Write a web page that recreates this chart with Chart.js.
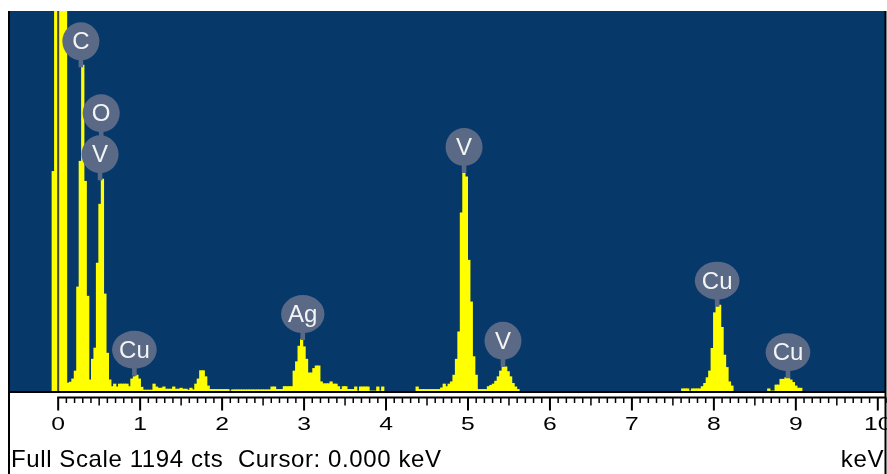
<!DOCTYPE html>
<html>
<head>
<meta charset="utf-8">
<title>EDS spectrum</title>
<script src="https://cdn.jsdelivr.net/npm/chart.js@4.4.1/dist/chart.umd.min.js"></script>
<style>
  html, body { margin: 0; padding: 0; background: #fff; }
  #wrap { width: 887px; height: 474px; position: relative; }
</style>
</head>
<body>
<div id="wrap"><canvas id="spectrum"></canvas></div>
<script>
const channelKeV = 0.03;
const fullScaleCounts = 1194;
const cursorKeV = 0;
const axisMinKeV = -0.6;
const axisMaxKeV = 10.1;
const tickLabels = ['0', '1', '2', '3', '4', '5', '6', '7', '8', '9', '10'];

// counts per channel, each run starts at the given energy
const lowStartKeV = -0.06; // noise peak, C, O / V L, Cu L, ~1.7 keV
const lowCounts = [
  690, 4000, 4000, 4000, 4000, 4000, 25, 28, 38, 63,
  327, 722, 1024, 659, 298, 35, 100, 135, 402, 587,
  666, 305, 119, 35, 14, 22, 13, 22, 22, 22,
  22, 14, 38, 45, 50, 38, 12, 3, 3, 3,
  3, 22, 13, 9, 9, 13, 6, 6, 6, 13,
  6, 6, 9, 6, 6, 3, 9, 4, 22, 38,
  64, 64, 45, 16
];
const midStartKeV = 1.86; // background and Ag L
const midCounts = [
  5, 5, 5, 5, 5, 5, 5, 5, 0, 4,
  4, 4, 4, 4, 4, 4, 4, 4, 4, 4,
  4, 4, 4, 4, 4, 13, 13, 5, 5, 5,
  14, 14, 14, 14, 63, 92, 141, 163, 139, 100,
  57, 57, 71, 79, 79, 29, 23, 23, 23, 29,
  22, 22, 14, 5, 14, 14, 5, 5, 5, 13,
  0, 13, 13, 13, 13, 0, 0, 0, 13, 0,
  13
];
const vanadiumStartKeV = 4.38; // V Ka and Kb
const vanadiumCounts = [
  13, 5, 5, 5, 5, 5, 5, 5, 5, 5,
  10, 22, 14, 22, 29, 50, 100, 186, 560, 685,
  673, 411, 280, 108, 50, 5, 5, 5, 5, 14,
  18, 22, 31, 45, 63, 76, 76, 61, 45, 24,
  13, 5
];
const copperKaStartKeV = 7.62;
const copperKaCounts = [
  7, 7, 7, 0, 7, 7, 7, 7, 14, 24,
  42, 63, 134, 246, 265, 270, 200, 113, 74, 29,
  16
];
const copperKbStartKeV = 8.67;
const copperKbCounts = [7, 0, 0, 19, 19, 37, 37, 42, 45, 35, 27, 16, 9, 9];

const peakNames = ['C', 'O', 'V', 'Cu', 'Ag', 'V', 'V', 'Cu', 'Cu'];
const peakKeV = [0.277, 0.525, 0.511, 0.930, 2.984, 4.952, 5.427, 8.040, 8.904];
const peakMarkerCounts = [1017, 791, 662, 48, 160, 685, 76, 265, 40];

function channelRun(startKeV, counts) {
  return counts.map((c, i) => ({ x: +(startKeV + i * channelKeV).toFixed(3), y: c }));
}

const spectrumData = [].concat(
  channelRun(lowStartKeV, lowCounts),
  channelRun(midStartKeV, midCounts),
  channelRun(vanadiumStartKeV, vanadiumCounts),
  channelRun(copperKaStartKeV, copperKaCounts),
  channelRun(copperKbStartKeV, copperKbCounts)
);

const fontFamily = "'Liberation Sans', Arial, sans-serif";

const edsDecor = {
  id: 'edsDecor',
  beforeDatasetsDraw(chart) {
    const { ctx, chartArea: a } = chart;
    ctx.save();
    ctx.fillStyle = '#06386a';
    ctx.fillRect(a.left, a.top, a.right - a.left, a.bottom - a.top);
    ctx.restore();
  },
  afterDatasetsDraw(chart) {
    const { ctx, chartArea: a } = chart;
    const xs = chart.scales.x;
    const ys = chart.scales.y;
    ctx.save();

    // cursor line
    const cx = xs.getPixelForValue(cursorKeV);
    ctx.strokeStyle = '#46463a';
    ctx.lineWidth = 2;
    ctx.beginPath();
    ctx.moveTo(cx, a.top);
    ctx.lineTo(cx, a.bottom);
    ctx.stroke();

    // peak markers
    ctx.font = '24px ' + fontFamily;
    ctx.textAlign = 'center';
    ctx.textBaseline = 'middle';
    peakNames.forEach((name, i) => {
      const px = xs.getPixelForValue(peakKeV[i]);
      const pinBottom = ys.getPixelForValue(peakMarkerCounts[i]);
      const pinTop = pinBottom - 8;
      const ry = 19;
      const rx = Math.max(18.5, ctx.measureText(name).width / 2 + 7);
      const cy = pinTop - ry + 1;
      ctx.fillStyle = '#596986';
      ctx.fillRect(px - 2.3, pinTop - 2, 4.6, pinBottom - pinTop + 2);
      ctx.beginPath();
      ctx.ellipse(px, cy, rx, ry, 0, 0, Math.PI * 2);
      ctx.fill();
      ctx.fillStyle = '#f4f4f4';
      ctx.fillText(name, px, cy + 1.5);
    });
    ctx.restore();
  },
  afterDraw(chart) {
    const { ctx, chartArea: a, width, height } = chart;
    const xs = chart.scales.x;
    ctx.save();
    ctx.strokeStyle = '#000';
    ctx.fillStyle = '#000';

    // frame
    ctx.lineWidth = 2;
    ctx.beginPath();
    ctx.moveTo(a.left, a.top);
    ctx.lineTo(a.left, height);
    ctx.moveTo(a.right - 0.5, a.top);
    ctx.lineTo(a.right - 0.5, height);
    ctx.moveTo(a.left, a.bottom + 1);
    ctx.lineTo(a.right, a.bottom + 1);
    ctx.stroke();

    // ruler
    const rulerY = a.bottom + 6.5;
    const x0 = xs.getPixelForValue(0);
    ctx.beginPath();
    ctx.moveTo(x0 - 1, rulerY);
    ctx.lineTo(a.right, rulerY);
    ctx.stroke();
    for (let t = 0; t <= 101; t++) {
      const keV = t / 10;
      const px = xs.getPixelForValue(keV);
      if (px > a.right) break;
      let len = 5.5;
      ctx.lineWidth = 1.5;
      if (t % 10 === 0) { len = 13; ctx.lineWidth = 2; }
      else if (t % 5 === 0) { len = 8; }
      ctx.beginPath();
      ctx.moveTo(px, rulerY);
      ctx.lineTo(px, rulerY + len);
      ctx.stroke();
    }

    // tick labels (wide digits, as in the instrument export)
    ctx.font = '19px ' + fontFamily;
    ctx.textAlign = 'center';
    ctx.textBaseline = 'alphabetic';
    tickLabels.forEach((lab) => {
      ctx.save();
      ctx.translate(xs.getPixelForValue(Number(lab)), a.bottom + 39);
      ctx.scale(1.3, 1);
      ctx.fillText(lab, 0, 0);
      ctx.restore();
    });

    // footer
    ctx.font = '24px ' + fontFamily;
    ctx.letterSpacing = '0.6px';
    ctx.textAlign = 'left';
    ctx.fillText('Full Scale ' + fullScaleCounts + ' cts  Cursor: ' + cursorKeV.toFixed(3) + ' keV', 11, height - 7);
    ctx.textAlign = 'right';
    ctx.fillText('keV', a.right - 2, height - 7);
    ctx.restore();
  }
};

new Chart(document.getElementById('spectrum'), {
  type: 'bar',
  data: {
    datasets: [{
      data: spectrumData,
      backgroundColor: '#ffff00',
      borderWidth: 0,
      barThickness: 2.6,
      grouped: false
    }]
  },
  options: {
    responsive: true,
    maintainAspectRatio: false,
    animation: false,
    layout: { padding: { left: 9, top: 11, right: 1, bottom: 83 } },
    plugins: { legend: { display: false }, tooltip: { enabled: false } },
    scales: {
      x: { type: 'linear', min: axisMinKeV, max: axisMaxKeV, offset: false, display: false },
      y: { min: 0, max: fullScaleCounts, display: false }
    }
  },
  plugins: [edsDecor]
});
</script>
</body>
</html>
